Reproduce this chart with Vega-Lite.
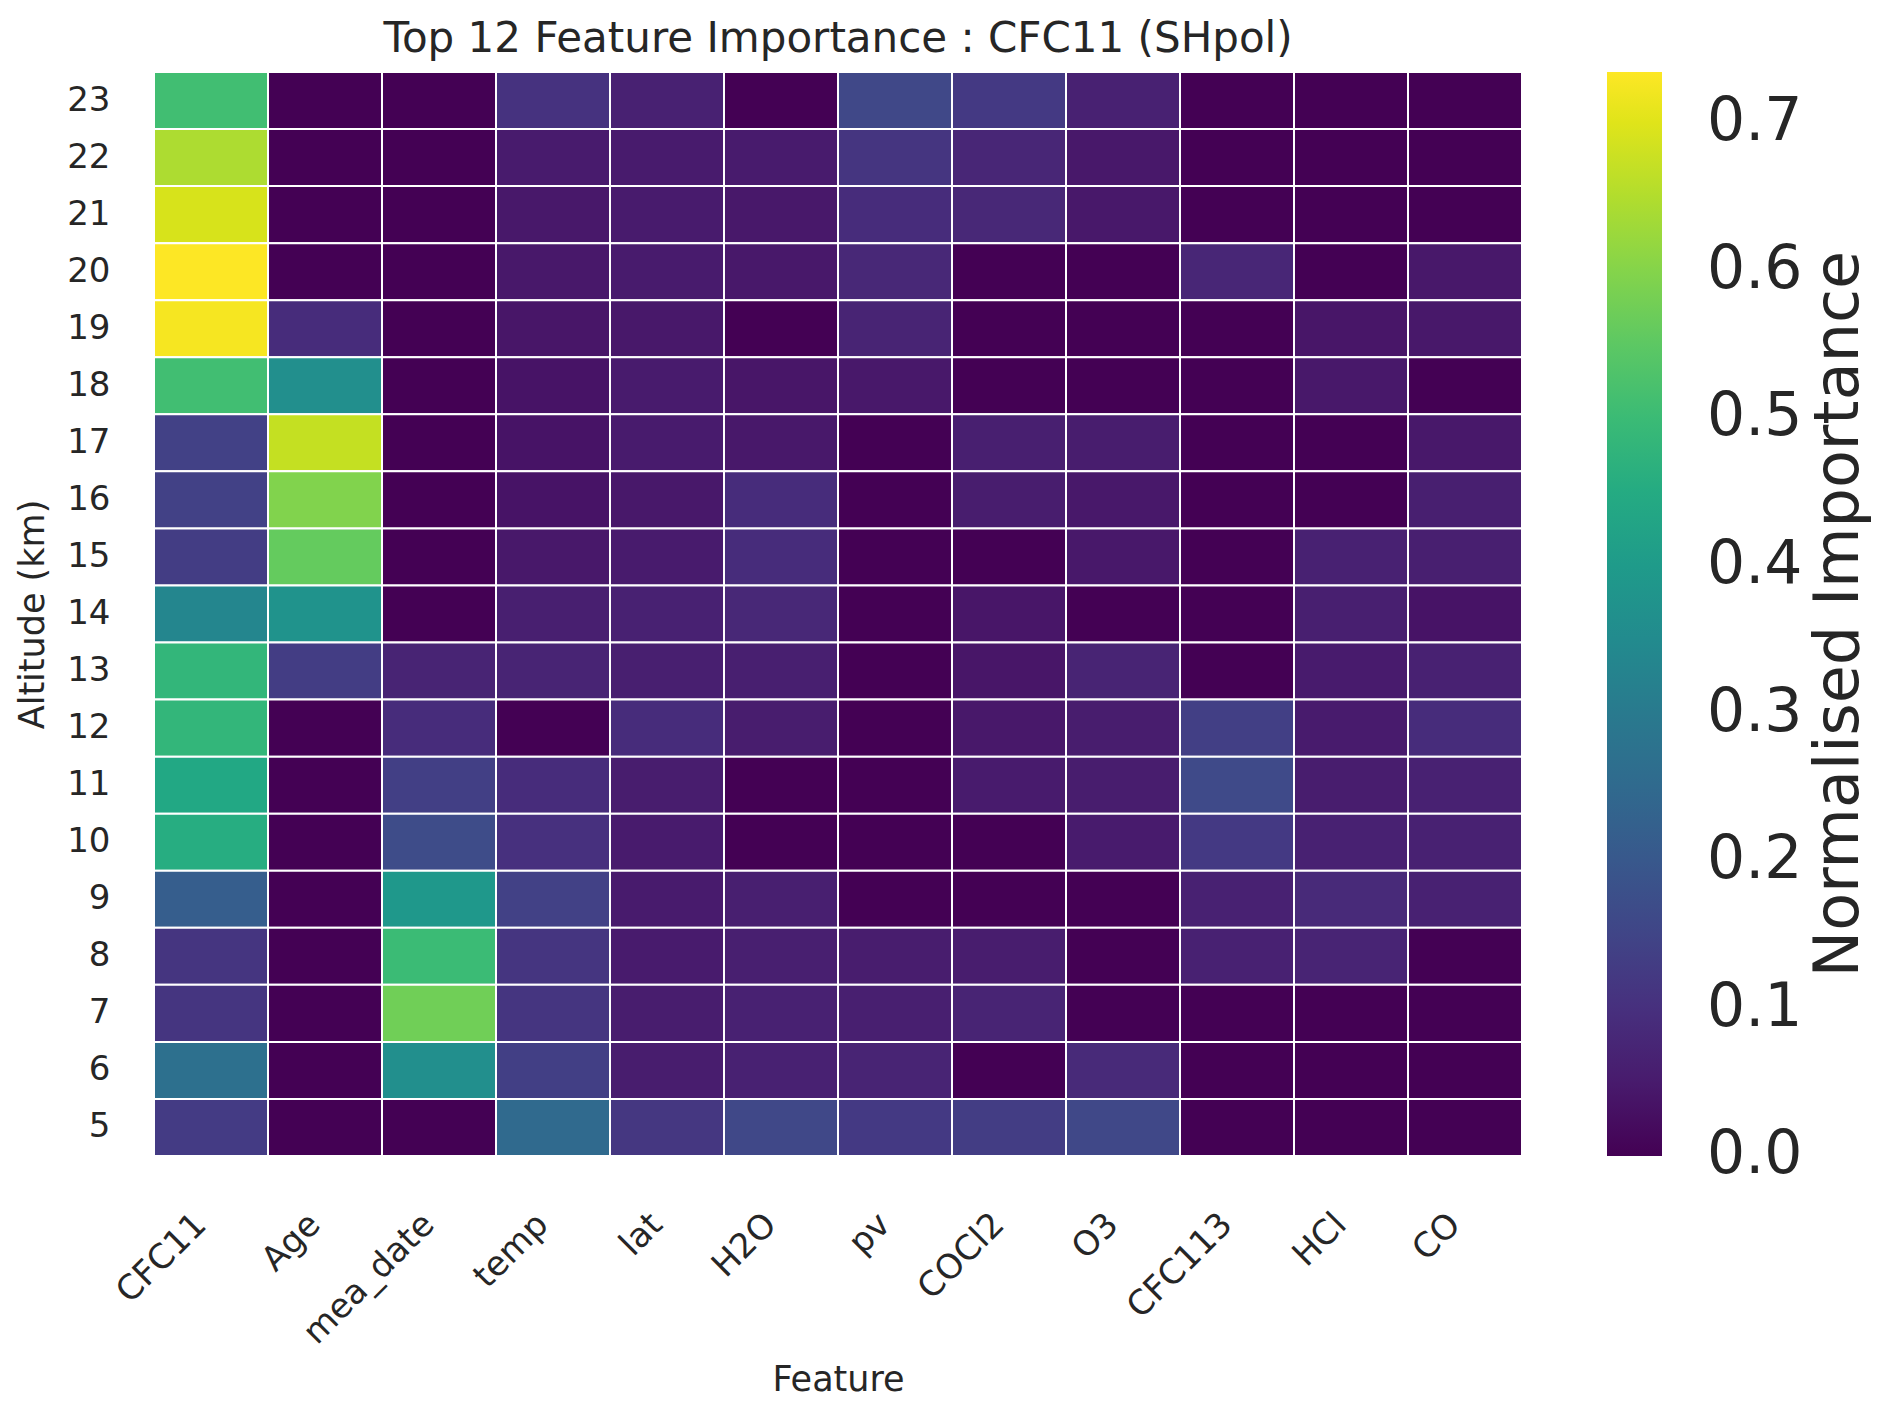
{
  "$schema": "https://vega.github.io/schema/vega-lite/v6.json",
  "autosize": {"type": "none"},
  "padding": {"left": 154, "top": 72, "right": 370, "bottom": 253},
  "width": 1368,
  "height": 1084,
  "background": "white",
  "title": {
    "text": "Top 12 Feature Importance : CFC11 (SHpol)",
    "fontSize": 42,
    "fontWeight": "normal",
    "font": "DejaVu Sans",
    "color": "#262626",
    "anchor": "middle",
    "offset": 10
  },
  "datasets": {
    "grid": [
      {"Altitude": 23, "CFC11": 0.51, "Age": 0, "mea_date": 0, "temp": 0.105, "lat": 0.065, "H2O": 0, "pv": 0.155, "COCl2": 0.12, "O3": 0.065, "CFC113": 0, "HCl": 0, "CO": 0},
      {"Altitude": 22, "CFC11": 0.645, "Age": 0, "mea_date": 0, "temp": 0.05, "lat": 0.05, "H2O": 0.05, "pv": 0.11, "COCl2": 0.075, "O3": 0.045, "CFC113": 0, "HCl": 0, "CO": 0},
      {"Altitude": 21, "CFC11": 0.69, "Age": 0, "mea_date": 0, "temp": 0.045, "lat": 0.05, "H2O": 0.045, "pv": 0.09, "COCl2": 0.08, "O3": 0.045, "CFC113": 0, "HCl": 0, "CO": 0},
      {"Altitude": 20, "CFC11": 0.734, "Age": 0, "mea_date": 0, "temp": 0.045, "lat": 0.05, "H2O": 0.045, "pv": 0.08, "COCl2": 0, "O3": 0, "CFC113": 0.075, "HCl": 0, "CO": 0.045},
      {"Altitude": 19, "CFC11": 0.725, "Age": 0.09, "mea_date": 0, "temp": 0.04, "lat": 0.045, "H2O": 0, "pv": 0.07, "COCl2": 0, "O3": 0, "CFC113": 0, "HCl": 0.04, "CO": 0.045},
      {"Altitude": 18, "CFC11": 0.51, "Age": 0.36, "mea_date": 0, "temp": 0.035, "lat": 0.05, "H2O": 0.04, "pv": 0.045, "COCl2": 0, "O3": 0, "CFC113": 0, "HCl": 0.045, "CO": 0},
      {"Altitude": 17, "CFC11": 0.14, "Age": 0.67, "mea_date": 0, "temp": 0.035, "lat": 0.05, "H2O": 0.045, "pv": 0, "COCl2": 0.06, "O3": 0.055, "CFC113": 0, "HCl": 0, "CO": 0.045},
      {"Altitude": 16, "CFC11": 0.14, "Age": 0.595, "mea_date": 0, "temp": 0.035, "lat": 0.045, "H2O": 0.09, "pv": 0, "COCl2": 0.055, "O3": 0.045, "CFC113": 0, "HCl": 0, "CO": 0.06},
      {"Altitude": 15, "CFC11": 0.13, "Age": 0.56, "mea_date": 0, "temp": 0.045, "lat": 0.05, "H2O": 0.09, "pv": 0, "COCl2": 0, "O3": 0.045, "CFC113": 0, "HCl": 0.065, "CO": 0.06},
      {"Altitude": 14, "CFC11": 0.335, "Age": 0.375, "mea_date": 0, "temp": 0.06, "lat": 0.065, "H2O": 0.08, "pv": 0, "COCl2": 0.04, "O3": 0, "CFC113": 0, "HCl": 0.06, "CO": 0.035},
      {"Altitude": 13, "CFC11": 0.485, "Age": 0.13, "mea_date": 0.07, "temp": 0.07, "lat": 0.06, "H2O": 0.06, "pv": 0, "COCl2": 0.04, "O3": 0.07, "CFC113": 0, "HCl": 0.05, "CO": 0.065},
      {"Altitude": 12, "CFC11": 0.485, "Age": 0, "mea_date": 0.09, "temp": 0, "lat": 0.09, "H2O": 0.055, "pv": 0, "COCl2": 0.045, "O3": 0.055, "CFC113": 0.135, "HCl": 0.05, "CO": 0.09},
      {"Altitude": 11, "CFC11": 0.44, "Age": 0, "mea_date": 0.135, "temp": 0.09, "lat": 0.055, "H2O": 0, "pv": 0, "COCl2": 0.05, "O3": 0.055, "CFC113": 0.16, "HCl": 0.055, "CO": 0.065},
      {"Altitude": 10, "CFC11": 0.455, "Age": 0, "mea_date": 0.165, "temp": 0.1, "lat": 0.05, "H2O": 0, "pv": 0, "COCl2": 0, "O3": 0.05, "CFC113": 0.12, "HCl": 0.065, "CO": 0.065},
      {"Altitude": 9, "CFC11": 0.215, "Age": 0, "mea_date": 0.39, "temp": 0.14, "lat": 0.05, "H2O": 0.06, "pv": 0, "COCl2": 0, "O3": 0, "CFC113": 0.065, "HCl": 0.085, "CO": 0.065},
      {"Altitude": 8, "CFC11": 0.11, "Age": 0, "mea_date": 0.5, "temp": 0.11, "lat": 0.05, "H2O": 0.06, "pv": 0.055, "COCl2": 0.055, "O3": 0, "CFC113": 0.065, "HCl": 0.07, "CO": 0},
      {"Altitude": 7, "CFC11": 0.11, "Age": 0, "mea_date": 0.575, "temp": 0.11, "lat": 0.055, "H2O": 0.065, "pv": 0.06, "COCl2": 0.07, "O3": 0, "CFC113": 0, "HCl": 0, "CO": 0},
      {"Altitude": 6, "CFC11": 0.27, "Age": 0, "mea_date": 0.36, "temp": 0.135, "lat": 0.055, "H2O": 0.065, "pv": 0.07, "COCl2": 0, "O3": 0.085, "CFC113": 0, "HCl": 0, "CO": 0},
      {"Altitude": 5, "CFC11": 0.125, "Age": 0, "mea_date": 0, "temp": 0.25, "lat": 0.115, "H2O": 0.155, "pv": 0.12, "COCl2": 0.13, "O3": 0.155, "CFC113": 0, "HCl": 0, "CO": 0}
    ]
  },
  "data": {"name": "grid"},
  "transform": [
    {"fold": ["CFC11", "Age", "mea_date", "temp", "lat", "H2O", "pv", "COCl2", "O3", "CFC113", "HCl", "CO"], "as": ["Feature", "Importance"]}
  ],
  "mark": {"type": "rect", "stroke": "white", "strokeWidth": 2},
  "encoding": {
    "x": {
      "field": "Feature",
      "type": "nominal",
      "sort": ["CFC11", "Age", "mea_date", "temp", "lat", "H2O", "pv", "COCl2", "O3", "CFC113", "HCl", "CO"],
      "scale": {"paddingInner": 0, "paddingOuter": 0},
      "axis": {
        "title": "Feature",
        "titleFontSize": 35,
        "titleFontWeight": "normal",
        "titleColor": "#262626",
        "titlePadding": 12,
        "labelAngle": -45,
        "labelAlign": "right",
        "labelBaseline": "middle",
        "labelFontSize": 34,
        "labelColor": "#262626",
        "labelPadding": 63,
        "labelOffset": -10,
        "ticks": false,
        "domain": false
      }
    },
    "y": {
      "field": "Altitude",
      "type": "ordinal",
      "sort": "descending",
      "scale": {"paddingInner": 0, "paddingOuter": 0},
      "axis": {
        "title": "Altitude (km)",
        "titleFontSize": 35,
        "titleFontWeight": "normal",
        "titleColor": "#262626",
        "titlePadding": 16,
        "labelFontSize": 34,
        "labelColor": "#262626",
        "labelPadding": 44,
        "labelAngle": 0,
        "ticks": false,
        "domain": false
      }
    },
    "color": {
      "field": "Importance",
      "type": "quantitative",
      "scale": {"scheme": "viridis", "domain": [-0.0005, 0.734]},
      "legend": {
        "title": "Normalised Importance",
        "orient": "right",
        "direction": "vertical",
        "offset": 85,
        "gradientLength": 1084,
        "gradientThickness": 55,
        "gradientStrokeWidth": 0,
        "values": [0, 0.1, 0.2, 0.3, 0.4, 0.5, 0.6, 0.7],
        "format": ".1f",
        "labelFontSize": 60,
        "labelColor": "#262626",
        "labelOffset": 45,
        "labelBaseline": "middle",
        "labelOverlap": false,
        "titleOrient": "right",
        "titleAnchor": "middle",
        "titleLimit": 3000,
        "titleFontSize": 62,
        "titleFontWeight": "normal",
        "titleColor": "#262626",
        "titlePadding": 7,
        "encode": {"title": {"update": {"angle": {"value": 270}, "baseline": {"value": "top"}}}}
      }
    }
  },
  "config": {
    "font": "DejaVu Sans",
    "view": {"stroke": null}
  }
}
